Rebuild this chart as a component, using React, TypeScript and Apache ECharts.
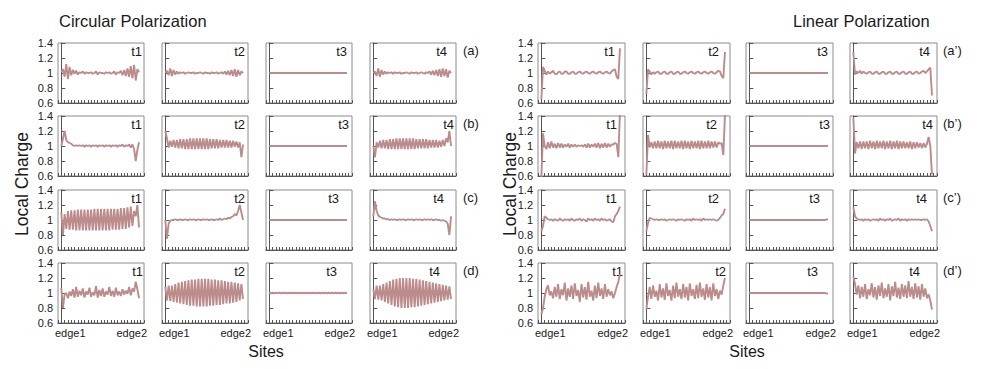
import React, { useEffect, useRef } from "react";
import * as echarts from "echarts";

// ---------- DATA ----------
const timeLabels = ["t1", "t2", "t3", "t4"];
const circRowLabels = ["(a)", "(b)", "(c)", "(d)"];
const linRowLabels = ["(a’)", "(b’)", "(c’)", "(d’)"];
const groupTitles = ["Circular Polarization", "Linear Polarization"];
const edgeLabels = ["edge1", "edge2"];
const yAxisTitle = "Local Charge";
const xAxisTitle = "Sites";
const yMin = 0.6;
const yMax = 1.4;
const yStep = 0.2;

// Circular polarization
const cA1 = [
  1.02, 1.05, 0.95, 1.12, 0.92, 1.08, 0.97, 1.04,
  0.99, 1.03, 0.98, 1.01, 1.0, 1.02, 0.99, 1.01,
  1.0, 1.0, 1.01, 0.99, 1.0, 1.02, 0.98, 1.01,
  1.0, 1.0, 0.99, 1.01, 1.0, 1.01, 0.99, 1.0,
  1.02, 0.98, 1.01, 1.0, 1.03, 0.97, 1.04, 0.96,
  1.06, 0.95, 1.09, 0.93, 1.11, 0.9, 1.05, 1.01,
];
const cA2 = [
  1.0, 1.03, 0.97, 1.06, 0.96, 1.04, 0.98, 1.02,
  0.99, 1.01, 1.0, 1.01, 0.99, 1.0, 1.01, 1.0,
  1.0, 1.01, 0.99, 1.0, 1.0, 1.01, 1.0, 0.99,
  1.01, 1.0, 1.0, 0.99, 1.01, 1.0, 1.0, 1.01,
  0.99, 1.0, 1.01, 0.99, 1.02, 0.98, 1.03, 0.97,
  1.04, 0.96, 1.05, 0.95, 1.04, 0.97, 1.02, 1.0,
];
const cA3 = [
  1, 1, 1, 1, 1, 1, 1, 1, 1, 1, 1, 1, 1, 1, 1, 1,
  1, 1, 1, 1, 1, 1, 1, 1, 1, 1, 1, 1, 1, 1, 1, 1,
  1, 1, 1, 1, 1, 1, 1, 1, 1, 1, 1, 1, 1, 1, 1, 1,
];
const cA4 = [
  1.0, 1.02, 0.96, 1.06, 0.95, 1.04, 0.98, 1.02,
  0.99, 1.01, 1.0, 1.01, 0.99, 1.01, 1.0, 1.0,
  1.01, 0.99, 1.0, 1.0, 1.01, 1.0, 0.99, 1.01,
  1.0, 1.0, 1.01, 0.99, 1.0, 1.01, 1.0, 0.99,
  1.01, 1.0, 1.02, 0.98, 1.03, 0.97, 1.04, 0.96,
  1.05, 0.95, 1.06, 0.96, 1.05, 0.94, 1.03, 1.0,
];
const cB1 = [
  1.0, 1.1, 1.2, 1.08, 1.05, 1.04, 1.03, 1.01,
  1.0, 1.01, 1.0, 1.01, 1.0, 1.01, 0.99, 1.01,
  1.0, 1.01, 0.99, 1.01, 1.0, 1.01, 0.99, 1.01,
  1.0, 1.01, 0.99, 1.01, 1.0, 1.01, 0.99, 1.01,
  1.0, 1.01, 0.99, 1.01, 1.0, 1.02, 0.99, 1.01,
  1.0, 1.02, 0.98, 1.02, 0.96, 0.8, 0.95, 1.05,
];
const cB2 = [
  1.2, 1.1, 0.98, 1.07, 0.99, 1.08, 0.98, 1.08,
  0.97, 1.09, 0.97, 1.09, 0.96, 1.09, 0.96, 1.1,
  0.96, 1.1, 0.96, 1.1, 0.96, 1.1, 0.96, 1.1,
  0.96, 1.1, 0.96, 1.09, 0.97, 1.09, 0.97, 1.09,
  0.97, 1.08, 0.98, 1.08, 0.98, 1.08, 0.98, 1.07,
  0.98, 1.07, 0.99, 1.06, 0.98, 1.05, 0.85, 1.02,
];
const cB3 = [
  1, 1, 1, 1, 1, 1, 1, 1, 1, 1, 1, 1, 1, 1, 1, 1,
  1, 1, 1, 1, 1, 1, 1, 1, 1, 1, 1, 1, 1, 1, 1, 1,
  1, 1, 1, 1, 1, 1, 1, 1, 1, 1, 1, 1, 1, 1, 1, 1,
];
const cB4 = [
  1.0, 0.85, 1.05, 0.98, 1.07, 0.97, 1.08, 0.97,
  1.08, 0.96, 1.09, 0.96, 1.09, 0.96, 1.1, 0.96,
  1.1, 0.96, 1.1, 0.96, 1.1, 0.96, 1.1, 0.96,
  1.1, 0.96, 1.09, 0.97, 1.09, 0.97, 1.09, 0.97,
  1.09, 0.97, 1.08, 0.98, 1.08, 0.98, 1.08, 0.98,
  1.07, 0.99, 1.08, 1.0, 1.1, 1.05, 1.2, 1.0,
];
const cC1 = [
  1.1, 0.8, 1.08, 0.88, 1.12, 0.87, 1.13, 0.87,
  1.13, 0.86, 1.14, 0.86, 1.14, 0.86, 1.14, 0.86,
  1.14, 0.86, 1.14, 0.86, 1.15, 0.86, 1.15, 0.86,
  1.15, 0.86, 1.15, 0.86, 1.15, 0.86, 1.15, 0.87,
  1.15, 0.87, 1.15, 0.87, 1.16, 0.88, 1.16, 0.88,
  1.17, 0.9, 1.18, 0.92, 1.12, 1.05, 1.2, 0.9,
];
const cC2 = [
  1.0, 0.75, 0.95, 0.99, 1.0, 1.0, 1.01, 1.0,
  1.0, 1.01, 1.0, 1.0, 1.01, 1.0, 1.0, 1.01,
  1.0, 1.01, 1.0, 1.0, 1.01, 1.0, 1.0, 1.01,
  1.0, 1.01, 1.0, 1.0, 1.01, 1.0, 1.0, 1.01,
  1.0, 1.02, 1.0, 1.01, 1.02, 1.01, 1.03, 1.02,
  1.04, 1.05, 1.08, 1.06, 1.12, 1.2, 1.1, 1.0,
];
const cC3 = [
  1, 1, 1, 1, 1, 1, 1, 1, 1, 1, 1, 1, 1, 1, 1, 1,
  1, 1, 1, 1, 1, 1, 1, 1, 1, 1, 1, 1, 1, 1, 1, 1,
  1, 1, 1, 1, 1, 1, 1, 1, 1, 1, 1, 1, 1, 1, 1, 1,
];
const cC4 = [
  1.05, 1.25, 1.12, 1.06, 1.04, 1.03, 1.02, 1.02,
  1.01, 1.01, 1.0, 1.01, 1.0, 1.01, 1.0, 1.0,
  1.01, 1.0, 1.01, 1.0, 1.0, 1.01, 1.0, 1.01,
  1.0, 1.0, 1.01, 1.0, 1.01, 1.0, 1.0, 1.01,
  1.0, 1.01, 1.0, 1.01, 1.0, 1.0, 1.01, 1.0,
  1.0, 0.99, 1.0, 0.99, 0.98, 0.95, 0.8, 1.05,
];
const cD1 = [
  1.07, 0.8, 0.98, 1.0, 0.93, 1.02, 0.96, 1.05,
  0.94, 1.08, 0.95, 1.03, 0.97, 1.06, 0.94, 1.02,
  0.98, 1.07, 0.95, 1.01, 0.97, 1.09, 0.94, 1.04,
  0.96, 1.06, 0.95, 1.02, 0.98, 1.08, 0.96, 1.03,
  0.95, 1.07, 0.97, 1.02, 0.96, 1.05, 0.98, 1.03,
  0.99, 1.08, 0.97, 1.06, 1.02, 1.15, 1.05, 0.93,
];
const cD2 = [
  1.08, 0.9, 1.1, 0.89, 1.1, 0.88, 1.12, 0.87,
  1.14, 0.86, 1.15, 0.85, 1.16, 0.84, 1.17, 0.83,
  1.18, 0.83, 1.18, 0.82, 1.19, 0.82, 1.19, 0.82,
  1.19, 0.82, 1.19, 0.83, 1.18, 0.83, 1.18, 0.84,
  1.17, 0.84, 1.17, 0.85, 1.16, 0.86, 1.15, 0.86,
  1.15, 0.87, 1.14, 0.88, 1.13, 0.9, 1.12, 0.92,
];
const cD3 = [
  1.005, 0.995, 1.005, 0.995, 1.005, 0.995, 1.005, 0.995,
  1.005, 0.995, 1.005, 0.995, 1.005, 0.995, 1.005, 0.995,
  1.005, 0.995, 1.005, 0.995, 1.005, 0.995, 1.005, 0.995,
  1.005, 0.995, 1.005, 0.995, 1.005, 0.995, 1.005, 0.995,
  1.005, 0.995, 1.005, 0.995, 1.005, 0.995, 1.005, 0.995,
  1.005, 0.995, 1.005, 0.995, 1.005, 0.995, 1.005, 0.995,
];
const cD4 = [
  1.05, 0.92, 1.1, 0.91, 1.1, 0.9, 1.12, 0.88,
  1.14, 0.86, 1.16, 0.84, 1.18, 0.82, 1.19, 0.81,
  1.2, 0.8, 1.2, 0.8, 1.2, 0.8, 1.2, 0.81,
  1.19, 0.81, 1.19, 0.82, 1.18, 0.83, 1.17, 0.84,
  1.16, 0.85, 1.15, 0.86, 1.14, 0.87, 1.13, 0.88,
  1.12, 0.89, 1.11, 0.9, 1.1, 0.91, 1.09, 0.92,
];

// Linear polarization
const lA1 = [
  0.65, 1.08, 1.03, 0.98, 1.02, 0.99, 1.01, 1.03,
  0.99, 0.98, 1.01, 1.02, 0.99, 0.99, 1.02, 1.02,
  0.99, 0.99, 1.01, 1.02, 0.99, 0.99, 1.01, 1.02,
  1.0, 0.99, 1.01, 1.02, 1.0, 0.99, 1.01, 1.02,
  1.0, 0.99, 1.01, 1.02, 1.0, 0.99, 1.01, 1.02,
  1.0, 0.99, 1.02, 1.04, 1.05, 0.95, 0.92, 1.33,
];
const lA2 = [
  0.72, 1.05, 1.02, 0.98, 1.01, 0.99, 1.01, 1.02,
  0.99, 0.99, 1.01, 1.02, 0.99, 0.99, 1.01, 1.02,
  0.99, 0.99, 1.01, 1.02, 0.99, 0.99, 1.01, 1.02,
  1.0, 0.99, 1.01, 1.02, 1.0, 0.99, 1.01, 1.02,
  1.0, 0.99, 1.01, 1.02, 1.0, 0.99, 1.01, 1.02,
  1.0, 0.99, 1.01, 1.03, 1.02, 0.96, 0.93, 1.28,
];
const lA3 = [
  1, 1, 1, 1, 1, 1, 1, 1, 1, 1, 1, 1, 1, 1, 1, 1,
  1, 1, 1, 1, 1, 1, 1, 1, 1, 1, 1, 1, 1, 1, 1, 1,
  1, 1, 1, 1, 1, 1, 1, 1, 1, 1, 1, 1, 1, 1, 1, 1,
];
const lA4 = [
  1.28, 0.98, 1.02, 1.0, 1.03, 0.99, 1.02, 1.0,
  0.99, 1.01, 1.02, 0.99, 0.99, 1.01, 1.02, 0.99,
  0.99, 1.01, 1.02, 0.99, 0.99, 1.01, 1.02, 0.99,
  0.99, 1.01, 1.02, 0.99, 0.99, 1.01, 1.02, 0.99,
  0.99, 1.01, 1.02, 0.99, 0.99, 1.01, 1.02, 0.99,
  1.0, 1.02, 1.03, 1.0, 1.02, 1.05, 1.07, 0.7,
];
const lB1 = [
  0.58, 1.17, 1.0, 0.96, 1.05, 0.97, 1.06, 0.98,
  1.03, 0.97, 1.04, 0.98, 1.03, 0.98, 1.02, 0.99,
  1.03, 0.98, 1.02, 0.99, 1.02, 0.99, 1.01, 1.0,
  1.01, 0.99, 1.02, 0.98, 1.03, 0.98, 1.02, 0.99,
  1.03, 0.98, 1.04, 0.97, 1.03, 0.98, 1.04, 0.98,
  1.03, 0.99, 1.02, 1.02, 1.04, 1.03, 0.85, 1.45,
];
const lB2 = [
  0.62, 1.15, 0.98, 1.05, 0.97, 1.06, 0.97, 1.07,
  0.97, 1.06, 0.96, 1.07, 0.97, 1.06, 0.97, 1.07,
  0.96, 1.07, 0.97, 1.06, 0.97, 1.07, 0.96, 1.07,
  0.97, 1.06, 0.96, 1.07, 0.97, 1.06, 0.97, 1.07,
  0.96, 1.07, 0.97, 1.06, 0.97, 1.07, 0.97, 1.06,
  0.98, 1.06, 0.98, 1.05, 1.03, 1.04, 0.88, 1.42,
];
const lB3 = [
  1, 1, 1, 1, 1, 1, 1, 1, 1, 1, 1, 1, 1, 1, 1, 1,
  1, 1, 1, 1, 1, 1, 1, 1, 1, 1, 1, 1, 1, 1, 1, 1,
  1, 1, 1, 1, 1, 1, 1, 1, 1, 1, 1, 1, 1, 1, 1, 1,
];
const lB4 = [
  1.38, 0.9, 1.05, 0.97, 1.06, 0.96, 1.06, 0.97,
  1.06, 0.96, 1.07, 0.97, 1.06, 0.96, 1.07, 0.97,
  1.06, 0.97, 1.07, 0.96, 1.06, 0.97, 1.07, 0.96,
  1.06, 0.97, 1.07, 0.96, 1.06, 0.97, 1.06, 0.97,
  1.05, 0.97, 1.06, 0.96, 1.05, 0.97, 1.05, 0.98,
  1.04, 0.97, 1.04, 0.98, 1.03, 1.12, 1.0, 0.62,
];
const lC1 = [
  0.85, 0.92, 1.05, 1.03, 1.01, 1.0, 1.01, 0.99,
  1.01, 1.0, 0.99, 1.02, 1.0, 0.99, 1.01, 1.0,
  1.01, 0.99, 1.02, 1.0, 0.99, 1.01, 1.0, 1.02,
  0.99, 1.01, 1.0, 0.98, 1.02, 1.0, 1.01, 0.99,
  1.02, 1.0, 1.01, 0.99, 1.02, 1.0, 1.01, 0.99,
  1.0, 1.01, 0.98, 0.97, 1.05, 1.08, 1.12, 1.18,
];
const lC2 = [
  0.85, 0.96, 1.03, 1.02, 1.01, 1.0, 1.01, 1.0,
  1.0, 1.01, 1.0, 1.01, 0.99, 1.0, 1.01, 1.0,
  1.01, 1.0, 0.99, 1.01, 1.0, 1.01, 1.0, 0.99,
  1.01, 1.0, 1.01, 0.99, 1.02, 1.0, 1.01, 1.0,
  1.01, 0.99, 1.02, 1.0, 1.01, 1.0, 1.01, 1.0,
  1.01, 1.0, 0.99, 1.0, 1.03, 1.06, 1.08, 1.15,
];
const lC3 = [
  1, 1, 1, 1, 1, 1, 1, 1, 1, 1, 1, 1, 1, 1, 1, 1,
  1, 1, 1, 1, 1, 1, 1, 1, 1, 1, 1, 1, 1, 1, 1, 1,
  1, 1, 1, 1, 1, 1, 1, 1, 1, 1, 1, 1, 1, 1, 1.005, 1.01,
];
const lC4 = [
  1.17, 1.05, 1.02, 1.01, 1.0, 1.01, 0.99, 1.01,
  1.0, 1.01, 0.99, 1.0, 1.01, 1.0, 1.01, 0.99,
  1.02, 1.0, 1.01, 0.99, 1.01, 1.0, 1.02, 0.99,
  1.0, 1.01, 1.0, 1.02, 0.99, 1.01, 1.0, 1.01,
  0.99, 1.01, 1.0, 1.01, 1.0, 1.01, 1.0, 1.01,
  1.0, 1.0, 1.01, 1.0, 1.01, 0.98, 0.92, 0.85,
];
const lD1 = [
  0.72, 0.8, 0.95, 1.05, 1.1, 0.97, 1.02, 0.93,
  1.08, 0.95, 1.12, 0.92, 1.05, 0.97, 1.14, 0.9,
  1.06, 0.95, 1.1, 0.92, 1.13, 0.96, 1.04, 0.88,
  1.12, 0.94, 1.08, 0.91, 1.15, 0.95, 1.03, 0.9,
  1.1, 0.93, 1.14, 0.96, 1.06, 0.92, 1.12, 0.95,
  1.05, 0.97, 1.02, 0.93, 1.0, 1.08, 1.15, 1.25,
];
const lD2 = [
  0.78, 0.95, 1.08, 0.92, 1.1, 0.95, 1.03, 0.9,
  1.12, 0.94, 1.06, 0.91, 1.13, 0.96, 1.04, 0.9,
  1.1, 0.93, 1.14, 0.95, 1.05, 0.92, 1.12, 0.94,
  1.08, 0.9, 1.13, 0.96, 1.05, 0.92, 1.11, 0.93,
  1.14, 0.95, 1.06, 0.91, 1.12, 0.94, 1.08, 0.9,
  1.13, 0.96, 1.05, 0.92, 1.03, 0.98, 1.1, 1.2,
];
const lD3 = [
  1, 1, 1, 1, 1, 1, 1, 1, 1, 1, 1, 1, 1, 1, 1, 1,
  1, 1, 1, 1, 1, 1, 1, 1, 1, 1, 1, 1, 1, 1, 1, 1,
  1, 1, 1, 1, 1, 1, 1, 1, 1, 1, 1, 1, 1, 1, 0.995, 0.99,
];
const lD4 = [
  1.22, 1.12, 0.98, 1.1, 0.93, 1.08, 0.95, 1.12,
  0.92, 1.05, 0.97, 1.13, 0.94, 1.08, 0.91, 1.1,
  0.96, 1.14, 0.93, 1.06, 0.95, 1.12, 0.9, 1.09,
  0.96, 1.15, 0.94, 1.07, 0.92, 1.12, 0.95, 1.1,
  0.93, 1.16, 0.95, 1.08, 0.92, 1.13, 0.94, 1.09,
  0.91, 1.12, 0.95, 1.06, 0.93, 0.98, 0.9, 0.78,
];

const circularData = [
  [cA1, cA2, cA3, cA4],
  [cB1, cB2, cB3, cB4],
  [cC1, cC2, cC3, cC4],
  [cD1, cD2, cD3, cD4],
];
const linearData = [
  [lA1, lA2, lA3, lA4],
  [lB1, lB2, lB3, lB4],
  [lC1, lC2, lC3, lC4],
  [lD1, lD2, lD3, lD4],
];

// ---------- LAYOUT ----------
const FONT = "'Liberation Sans', Arial, sans-serif";
const LINE_COLOR = "#bc8b8b";
const TEXT_COLOR = "#1a1a1a";
const groupLayouts = [
  {
    colLefts: [58, 162, 266, 370],
    width: 86,
    titleX: 59,
    rowLabelX: 463,
    yTitleX: 22,
    xTitleX: 266,
    labelOffsets: [
      [2, 3, 5, 9],
      [2, 3, 3, 2],
      [2, 3, 13, 12],
      [1, 3, 15, 16],
    ],
  },
  {
    colLefts: [538, 643, 746, 850],
    width: 87,
    titleX: 793,
    rowLabelX: 943,
    yTitleX: 510,
    xTitleX: 747,
    labelOffsets: [
      [10, 11, 5, 7],
      [8, 13, 3, 4],
      [8, 11, 13, 10],
      [2, 4, 15, 17],
    ],
  },
];
const rowTops = [43, 116, 190, 263];
const PANEL_H = 60;

function buildOption() {
  const grid: any[] = [];
  const xAxis: any[] = [];
  const yAxis: any[] = [];
  const series: any[] = [];
  const graphic: any[] = [];
  const groups = [circularData, linearData];
  const rowLabelSets = [circRowLabels, linRowLabels];

  groups.forEach((data, g) => {
    const L = groupLayouts[g];
    data.forEach((row, r) => {
      row.forEach((values, c) => {
        const k = grid.length;
        const left = L.colLefts[c];
        const top = rowTops[r];
        grid.push({
          left,
          top,
          width: L.width,
          height: PANEL_H,
          show: true,
          borderColor: "#8c8c8c",
          borderWidth: 1,
          containLabel: false,
        });
        xAxis.push({
          type: "value",
          gridIndex: k,
          min: -2,
          max: values.length + 2,
          interval: 2,
          axisLine: { show: true, lineStyle: { color: "#555", width: 1 } },
          axisTick: { show: true, inside: true, length: 3, lineStyle: { color: "#555" } },
          axisLabel: { show: false },
          splitLine: { show: false },
        });
        yAxis.push({
          type: "value",
          gridIndex: k,
          min: yMin,
          max: yMax,
          interval: yStep,
          axisLine: { show: true, lineStyle: { color: "#555", width: 1 } },
          axisTick: { show: true, inside: true, length: 4, lineStyle: { color: "#555" } },
          axisLabel: {
            show: c === 0,
            fontSize: 11,
            fontFamily: FONT,
            color: TEXT_COLOR,
            margin: 5,
          },
          splitLine: { show: false },
        });
        series.push({
          type: "line",
          xAxisIndex: k,
          yAxisIndex: k,
          data: values.map((v, i) => [i, v]),
          showSymbol: false,
          symbol: "none",
          silent: true,
          clip: true,
          lineStyle: { color: LINE_COLOR, width: 1.9 },
        });
        graphic.push({
          type: "text",
          x: left + L.width - L.labelOffsets[r][c],
          y: top + 2,
          style: {
            text: timeLabels[c],
            fill: TEXT_COLOR,
            font: `13px ${FONT}`,
            textAlign: "right",
            textVerticalAlign: "top",
          },
        });
        if (r === data.length - 1) {
          graphic.push({
            type: "text",
            x: left - 3,
            y: top + PANEL_H + 4,
            style: {
              text: edgeLabels[0],
              fill: TEXT_COLOR,
              font: `11px ${FONT}`,
              textAlign: "left",
              textVerticalAlign: "top",
            },
          });
          graphic.push({
            type: "text",
            x: left + L.width + 3,
            y: top + PANEL_H + 4,
            style: {
              text: edgeLabels[1],
              fill: TEXT_COLOR,
              font: `11px ${FONT}`,
              textAlign: "right",
              textVerticalAlign: "top",
            },
          });
        }
      });
      graphic.push({
        type: "text",
        x: L.rowLabelX,
        y: rowTops[r] + 1,
        style: {
          text: rowLabelSets[g][r],
          fill: TEXT_COLOR,
          font: `13px ${FONT}`,
          textAlign: "left",
          textVerticalAlign: "top",
        },
      });
    });
    graphic.push({
      type: "text",
      x: L.titleX,
      y: 21,
      style: {
        text: groupTitles[g],
        fill: TEXT_COLOR,
        font: `16.5px ${FONT}`,
        textAlign: "left",
        textVerticalAlign: "middle",
      },
    });
    graphic.push({
      type: "text",
      x: L.yTitleX,
      y: 184,
      rotation: Math.PI / 2,
      style: {
        text: yAxisTitle,
        fill: TEXT_COLOR,
        font: `17.5px ${FONT}`,
        textAlign: "center",
        textVerticalAlign: "middle",
      },
    });
    graphic.push({
      type: "text",
      x: L.xTitleX,
      y: 351,
      style: {
        text: xAxisTitle,
        fill: TEXT_COLOR,
        font: `16px ${FONT}`,
        textAlign: "center",
        textVerticalAlign: "middle",
      },
    });
  });

  return {
    animation: false,
    backgroundColor: "#ffffff",
    grid,
    xAxis,
    yAxis,
    series,
    graphic,
  };
}

export default function App() {
  const ref = useRef<HTMLDivElement>(null);
  useEffect(() => {
    if (!ref.current) return;
    const chart = echarts.init(ref.current, null, { renderer: "svg", width: 982, height: 369 });
    chart.setOption(buildOption() as any);
    return () => chart.dispose();
  }, []);
  return (
    <div
      ref={ref}
      style={{ position: "absolute", left: 0, top: 0, width: 982, height: 369 }}
    />
  );
}
